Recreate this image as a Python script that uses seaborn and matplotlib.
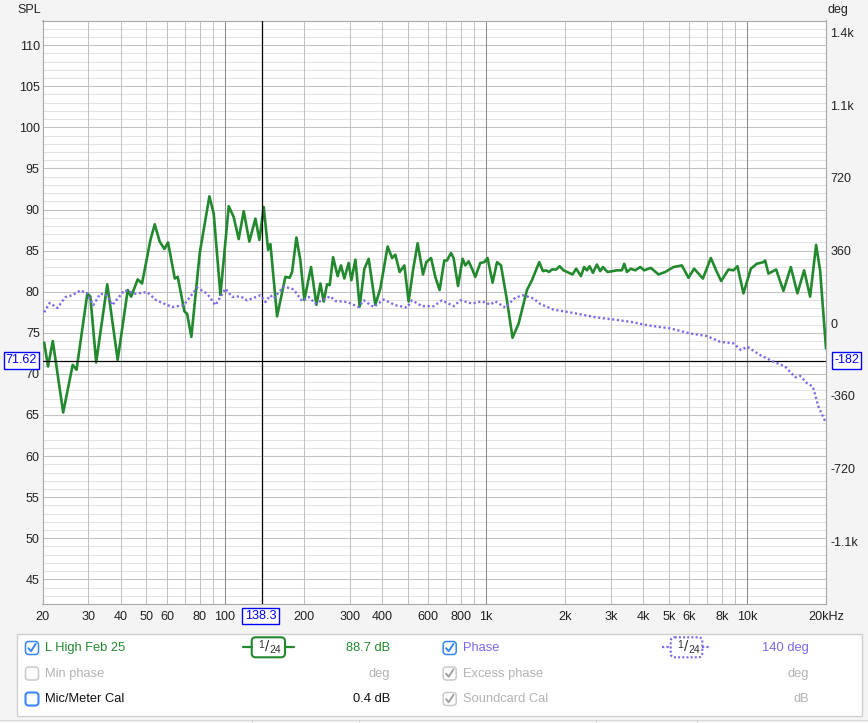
import numpy as np
import pandas as pd
import matplotlib
matplotlib.use("Agg")
import matplotlib.pyplot as plt
import seaborn as sns
from matplotlib.patches import FancyBboxPatch, Rectangle
from matplotlib.ticker import NullLocator

# ---------------- data ----------------
spl_freq = [20.3, 21.0, 21.9, 24.0, 26.1, 27.0, 29.7, 30.5, 32.1, 35.4,
            38.8, 42.4, 43.7, 46.3, 48.1, 51.8, 53.8, 56.2, 58.6, 60.5,
            64.2, 65.9, 69.9, 71.6, 74.3, 80.0, 87.1, 90.5, 96.0, 103.3,
            107.9, 112.8, 117.9, 123.9, 130.7, 135.4, 140.6, 146.2, 149.2, 158.2,
            170.2, 176.8, 180.6, 187.6, 194.3, 201.2, 213.4, 223.8, 231.8, 238.6,
            245.8, 251.6, 259.2, 269.8, 278.0, 286.2, 297.4, 304.6, 315.6, 327.6,
            341.6, 354.8, 376.2, 393.2, 419.4, 436.0, 448.8, 466.2, 485.8, 504.6,
            524.4, 546.2, 572.8, 589.8, 614.8, 638.4, 663.0, 691.0, 707.8, 733.0,
            750.2, 779.8, 812, 831.6, 856.2, 882.2, 908.2, 949.2, 983.2, 1012,
            1058, 1100, 1139, 1200, 1261, 1330, 1432, 1497, 1596, 1649,
            1698, 1738, 1785, 1854, 1909, 1977, 2140, 2211, 2305, 2372,
            2430, 2487, 2562, 2654, 2732, 2798, 2914, 3166, 3308, 3376,
            3458, 3582, 3720, 3888, 4026, 4270, 4566, 4846, 5212, 5612,
            5948, 6254, 6754, 7246, 7592, 7934, 8464, 8844, 9162, 9660,
            10310, 10870, 11520, 11694, 12040, 12884, 13742, 14666, 15544, 16492,
            17386, 18332, 18986, 20000]
spl_db = [73.8, 70.9, 74.0, 65.3, 71.1, 70.5, 79.8, 79.4, 71.4, 80.9,
          71.7, 80.2, 79.4, 81.5, 81.0, 86.3, 88.2, 86.1, 85.2, 86.0,
          81.6, 81.8, 77.6, 77.3, 74.5, 84.7, 91.6, 89.5, 79.6, 90.4,
          89.1, 86.4, 89.8, 86.1, 88.9, 86.3, 90.3, 85.1, 85.8, 77.0,
          81.8, 81.7, 82.4, 86.6, 83.8, 79.0, 83.0, 78.4, 81.0, 78.8,
          80.9, 80.8, 84.2, 81.9, 83.2, 81.6, 83.5, 81.4, 83.9, 78.2,
          82.8, 84.0, 78.4, 80.4, 85.5, 84.1, 84.5, 82.4, 83.2, 78.8,
          82.6, 85.9, 82.1, 83.6, 84.1, 81.8, 80.2, 83.8, 83.8, 84.7,
          84.1, 80.7, 84.0, 83.2, 83.7, 82.8, 81.8, 83.5, 83.6, 84.1,
          81.1, 83.6, 83.2, 79.0, 74.4, 76.1, 80.2, 81.4, 83.6, 82.5,
          82.6, 82.4, 82.7, 82.7, 83.1, 82.6, 82.1, 82.8, 81.9, 83.0,
          82.6, 83.1, 82.3, 83.3, 82.5, 83.0, 82.4, 82.6, 82.6, 83.4,
          82.4, 82.8, 82.6, 83.0, 82.6, 82.9, 82.1, 82.4, 83.0, 83.2,
          81.7, 82.8, 81.6, 84.1, 82.6, 81.3, 82.7, 82.6, 83.1, 79.8,
          82.8, 83.4, 83.6, 83.8, 82.2, 82.7, 80.1, 83.0, 79.8, 82.6,
          79.4, 85.7, 82.6, 73.1]

phase_freq = [20.3, 21.3, 22.8, 24.5, 26.0, 28.0, 29.7, 31.3, 33.3, 35.4,
              37.0, 41.2, 45.4, 50.3, 54.6, 62.7, 69.5, 78.2, 85.4, 91.9,
              100.3, 106.4, 114.5, 121.4, 136.6, 142.7, 149.2, 153.5, 167.7, 183.1,
              197.2, 209.1, 221.6, 253.0, 264.4, 293.2, 324.8, 339.4, 370.6, 404.8,
              448.8, 497.4, 519.8, 567.8, 629.0, 677.2, 750.2, 795.8, 882.2, 963.4,
              1037, 1083, 1183, 1292, 1390, 1518, 1610, 1810, 2098, 2292,
              2654, 3072, 3558, 4124, 5064, 6040, 6998, 7866, 8844, 9440,
              10006, 11190, 12580, 13954, 15232, 15922, 16892, 17810, 18710, 20000]
phase_deg = [54, 100, 75, 130, 138, 163, 146, 89, 146, 138,
             89, 163, 146, 154, 113, 80, 89, 176, 146, 89,
             171, 130, 133, 113, 138, 105, 138, 122, 182, 167,
             110, 130, 97, 133, 110, 105, 80, 113, 80, 117,
             89, 77, 113, 84, 84, 113, 84, 113, 97, 108,
             92, 108, 77, 127, 138, 122, 95, 67, 53, 44,
             28, 18, 7, -10, -26, -51, -64, -92, -100, -133,
             -117, -158, -191, -215, -268, -261, -297, -314, -413, -495]

spl_ticks = [45, 50, 55, 60, 65, 70, 75, 80, 85, 90, 95, 100, 105, 110]
deg_ticks = [1440, 1080, 720, 360, 0, -360, -720, -1080]
deg_labels = ["1.4k", "1.1k", "720", "360", "0", "-360", "-720", "-1.1k"]
freq_ticks = [20, 30, 40, 50, 60, 80, 100, 200, 300, 400, 600, 800,
              1000, 2000, 3000, 4000, 5000, 6000, 8000, 10000, 20000]
freq_labels = ["20", "30", "40", "50", "60", "80", "100", "200", "300", "400", "600", "800",
               "1k", "2k", "3k", "4k", "5k", "6k", "8k", "10k", "20kHz"]
cursor_freq = 138.3
cursor_spl = 71.62
cursor_deg = "-182"

# ---------------- style ----------------
sns.set_theme(style="white")
plt.rcParams["font.family"] = ["Liberation Sans", "DejaVu Sans"]

W, H = 868, 723
BG = "#f4f4f4"
GREEN = "#23892f"
PURPLE = "#7b69e8"
fig = plt.figure(figsize=(W / 100, H / 100), dpi=100, facecolor=BG)

L, R, T, B = 42.5, 826, 20.5, 604
ax = fig.add_axes([L / W, 1 - B / H, (R - L) / W, (B - T) / H])
ax.set_facecolor("white")
ax.set_xscale("log")
ax.set_xlim(20, 20000)
ax.set_ylim(42, 113)

for v in range(42, 114):
    ax.axhline(v, color="#c2c2c2" if v % 5 == 0 else "#e2e2e2", lw=0.75, zorder=0.5)
for dec in [10, 100, 1000, 10000]:
    for m in range(1, 10):
        f = m * dec
        if 20 < f < 20000:
            ax.axvline(f, color="#8a8a8a" if m == 1 else "#c2c2c2", lw=0.75, zorder=0.6)

spl_df = pd.DataFrame({"freq": spl_freq, "spl": spl_db})
sns.lineplot(data=spl_df, x="freq", y="spl", ax=ax, color=GREEN, lw=1.9,
             sort=False, estimator=None, legend=False, zorder=3)

ax.axvline(cursor_freq, color="black", lw=0.9, zorder=4)
ax.axhline(cursor_spl, color="black", lw=0.9, zorder=4)

ax.set_xlabel("")
ax.set_ylabel("")
ax.set_yticks(spl_ticks)
ax.set_xticks(freq_ticks, freq_labels)
ax.xaxis.set_minor_locator(NullLocator())
ax.tick_params(axis="y", length=0, pad=2, labelsize=9, labelcolor="#222222")
ax.tick_params(axis="x", length=0, pad=5, labelsize=9.1, labelcolor="#222222")
for s in ax.spines.values():
    s.set_color("#a8a8a8")
    s.set_linewidth(0.8)

ax2 = ax.twinx()
ax2.set_ylim(-1391, 1499)
phase_df = pd.DataFrame({"freq": phase_freq, "deg": phase_deg})
sns.lineplot(data=phase_df, x="freq", y="deg", ax=ax2, color=PURPLE, lw=1.7,
             sort=False, estimator=None, legend=False, dashes=False)
ax2.lines[0].set_linestyle((0, (0.9, 1.1)))
ax2.set_ylabel("")
ax2.set_yticks(deg_ticks, deg_labels)
ax2.tick_params(axis="y", length=0, pad=3, labelsize=9, labelcolor="#222222")
for s in ax2.spines.values():
    s.set_visible(False)

# ---------------- overlay (pixel coords) ----------------
ov = fig.add_axes([0, 0, 1, 1], zorder=10)
ov.set_xlim(0, W)
ov.set_ylim(H, 0)
ov.axis("off")
ov.patch.set_alpha(0)

ov.text(17, 10, "SPL", ha="left", va="center", fontsize=9, color="#222222")
ov.text(828, 10, "deg", ha="left", va="center", fontsize=9, color="#222222")

box = dict(boxstyle="square,pad=0.18", fc="white", ec="#0000ff", lw=1.0)
ov.text(21.5, 360.3, f"{cursor_spl:.2f}", ha="center", va="center", fontsize=9,
        color="#0000ee", bbox=box)
ov.text(846.5, 360.3, cursor_deg, ha="center", va="center", fontsize=9,
        color="#0000ee", bbox=box)
ov.text(260.5, 616, f"{cursor_freq:.1f}", ha="center", va="center", fontsize=9.1,
        color="#0000ee", bbox=box)

# legend panel
ov.add_patch(Rectangle((17, 633.5), 845, 82.5, fc="white", ec="#cfcfcf", lw=1.0))
ov.plot([0, W], [719.5, 719.5], color="#d6d6d6", lw=0.8)
for xs in [252, 359, 596, 697]:
    ov.plot([xs, xs], [719.5, H], color="#d6d6d6", lw=0.8)


def checkbox(cx, cy, checked, ec, ck=None, lw=1.1):
    ov.add_patch(FancyBboxPatch((cx - 6.5, cy - 6.5), 13, 13,
                                boxstyle="round,pad=0,rounding_size=3",
                                fc="white", ec=ec, lw=lw))
    if checked:
        ov.plot([cx - 3.6, cx - 1.0, cx + 3.8], [cy + 0.2, cy + 3.2, cy - 4.2],
                color=ck, lw=1.4, solid_capstyle="round", solid_joinstyle="round")


def smooth_icon(x0, x1, cy, color, dotted):
    ls = (0, (1, 1)) if dotted else "-"
    ov.plot([x0 - 8.5, x0], [cy, cy], color=color, lw=1.6, linestyle=ls)
    ov.plot([x1, x1 + 8.5], [cy, cy], color=color, lw=1.6, linestyle=ls)
    ov.add_patch(FancyBboxPatch((x0, cy - 10), x1 - x0, 20,
                                boxstyle="round,pad=0,rounding_size=4",
                                fc="white", ec=color, lw=1.5, linestyle=ls))
    ov.text(x0 + 9.5, cy - 2.5, "1", ha="center", va="center", fontsize=7.5, color="#333333")
    ov.text(x0 + 15.5, cy, "/", ha="center", va="center", fontsize=11, color="#333333")
    ov.text(x0 + 23.5, cy + 3.0, "24", ha="center", va="center", fontsize=7.5, color="#333333")


BLUE = "#3a86f7"
GRAY_E = "#c9c9c9"
GRAY_T = "#b3b3b3"
rows = [648, 673.5, 699]
checkbox(32, rows[0], True, BLUE, BLUE)
checkbox(32, rows[1], False, GRAY_E)
checkbox(32, rows[2], False, BLUE, lw=1.5)
checkbox(449.7, rows[0], True, BLUE, BLUE)
checkbox(449.7, rows[1], True, GRAY_E, "#a0a0a0")
checkbox(449.7, rows[2], True, GRAY_E, "#a0a0a0")

fs = 9.3
ov.text(45, rows[0], "L High Feb 25", ha="left", va="center", fontsize=fs, color=GREEN)
ov.text(390, rows[0], "88.7 dB", ha="right", va="center", fontsize=fs, color=GREEN)
ov.text(45, rows[1], "Min phase", ha="left", va="center", fontsize=fs, color=GRAY_T)
ov.text(390, rows[1], "deg", ha="right", va="center", fontsize=fs, color=GRAY_T)
ov.text(45, rows[2], "Mic/Meter Cal", ha="left", va="center", fontsize=fs, color="#111111")
ov.text(390, rows[2], "0.4 dB", ha="right", va="center", fontsize=fs, color="#111111")

ov.text(463.3, rows[0], "Phase", ha="left", va="center", fontsize=fs, color=PURPLE)
ov.text(809, rows[0], "140 deg", ha="right", va="center", fontsize=fs, color=PURPLE)
ov.text(463.3, rows[1], "Excess phase", ha="left", va="center", fontsize=fs, color=GRAY_T)
ov.text(809, rows[1], "deg", ha="right", va="center", fontsize=fs, color=GRAY_T)
ov.text(463.3, rows[2], "Soundcard Cal", ha="left", va="center", fontsize=fs, color=GRAY_T)
ov.text(809, rows[2], "dB", ha="right", va="center", fontsize=fs, color=GRAY_T)

smooth_icon(251.7, 285, 647.3, GREEN, False)
smooth_icon(670.7, 702.3, 647.3, PURPLE, True)

fig.savefig("out.png", dpi=100, facecolor=BG)
